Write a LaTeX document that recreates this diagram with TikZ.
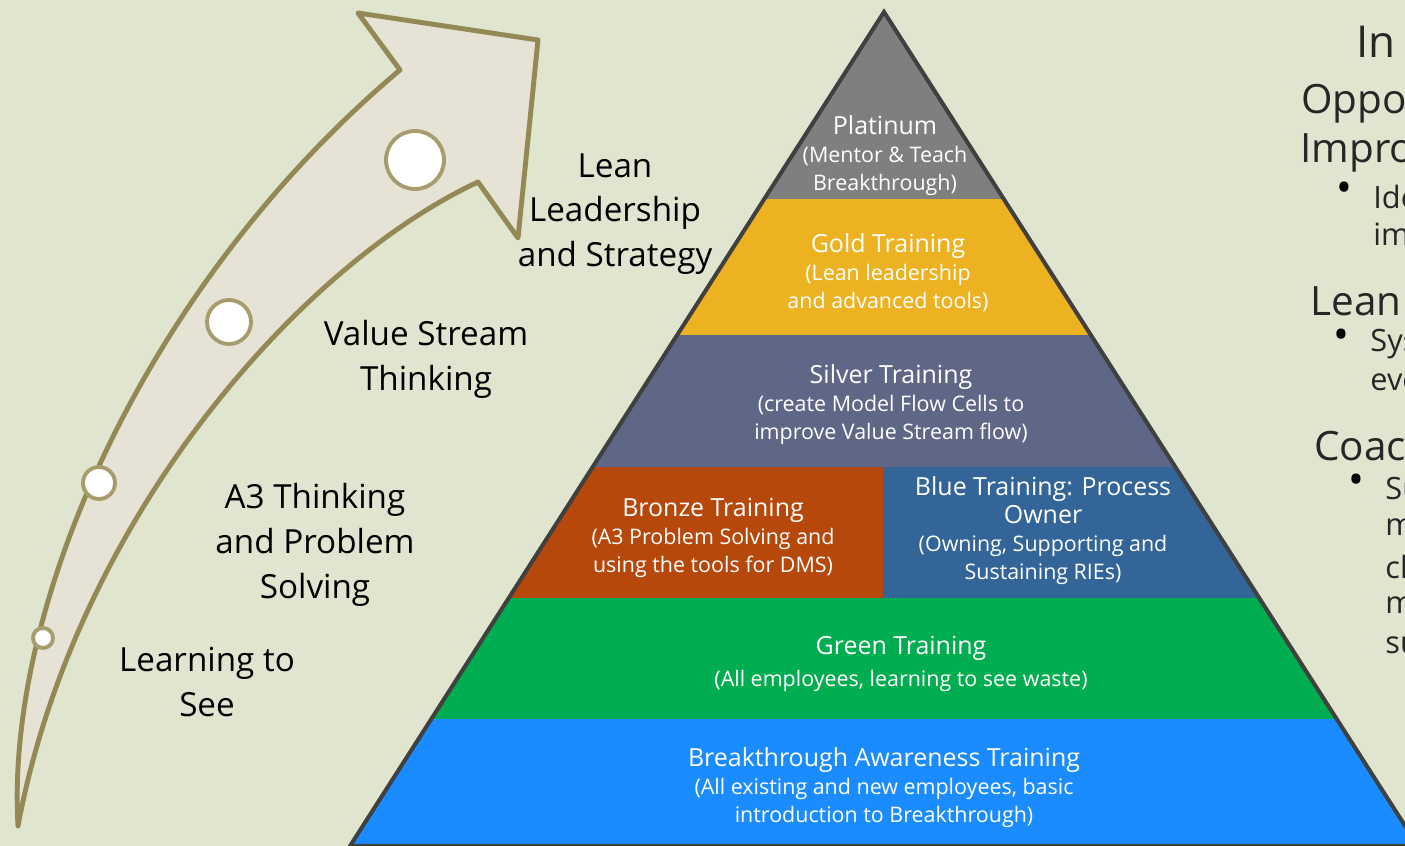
\documentclass[tikz,border=0pt]{standalone}
\usepackage{fontspec}
\setmainfont{Open Sans}

\definecolor{bgcol}{HTML}{DFE5CE}
\definecolor{arrowfill}{HTML}{E6E3D6}
\definecolor{arrowline}{HTML}{948954}
\definecolor{dotline}{HTML}{A79D6C}
\definecolor{platcol}{HTML}{7F7F7F}
\definecolor{goldcol}{HTML}{EDB221}
\definecolor{silvercol}{HTML}{5F6787}
\definecolor{bronzecol}{HTML}{B7480B}
\definecolor{bluecol}{HTML}{346598}
\definecolor{greencol}{HTML}{00AD50}
\definecolor{awarecol}{HTML}{1A8CFF}
\definecolor{edgecol}{HTML}{404040}

\newcommand\ttlfont{\fontsize{14.2}{15}\selectfont}
\newcommand\subfont{\fontsize{12.2}{15.9}\selectfont}

\tikzset{
  ptext/.style={text=white, align=center, inner sep=0pt, font=\subfont},
  stage/.style={text=black, align=center, inner sep=0pt, font=\fontsize{18.9}{25.5}\selectfont},
  rhead/.style={text=black!85, anchor=west, inner sep=0pt, font=\fontsize{23}{26}\selectfont},
  rtext/.style={text=black!85, anchor=west, inner sep=0pt, font=\fontsize{17.5}{20}\selectfont},
  rdot/.style={text=black, anchor=west, inner sep=0pt, text height=6pt, text depth=0pt,
    font=\fontsize{24}{24}\selectfont},
}

\begin{document}
\begin{tikzpicture}[x=0.2mm, y=-0.2mm]
\useasboundingbox (0,0) rectangle (1405,846);
\clip (0,0) rectangle (1405,846);
\fill[bgcol] (0,0) rectangle (1405,846);

% curved arrow
\draw[arrowline, fill=arrowfill, line width=2.8pt, line join=round]
  (18,826) .. controls (5,600) and (150,280) .. (400,70) -- (358,13) -- (538,40)
  -- (518,238) -- (478,182) .. controls (300,265) and (75,520) .. cycle;
\foreach \x/\y/\r in {415/160/29, 229/322/22, 99/483/16, 43/638/10}{
	\draw[dotline, fill=white, line width=2.2pt] (\x,\y) circle [radius=\r];
}

% stages
\node[stage] (lean) at (615,214) {Lean\\Leadership\\and Strategy};
\node[stage] (vst) at (426,359) {Value Stream\\Thinking};
\node[stage] (athree) at (315,545) {A3 Thinking\\and Problem\\Solving};
\node[stage] (lts) at (207,682) {Learning to\\See};

% pyramid bands
\begin{scope}
\clip (884,12) -- (1418,846) -- (350,846) -- cycle;
\fill[platcol] (300,0) rectangle (1450,199);
\fill[goldcol] (300,199) rectangle (1450,335);
\fill[silvercol] (300,335) rectangle (1450,467);
\fill[bronzecol] (300,467) rectangle (883,598);
\fill[bluecol] (883,467) rectangle (1450,598);
\fill[greencol] (300,598) rectangle (1450,719);
\fill[awarecol] (300,719) rectangle (1450,850);
\end{scope}
\draw[edgecol, line width=2.3pt, line join=miter] (884,12) -- (1418,846) -- (350,846) -- cycle;

\node[ptext] (plat) at (885,156) {{\ttlfont Platinum}\\(Mentor \& Teach\\Breakthrough)};
\node[ptext] (gold) at (888,273) {{\ttlfont Gold Training}\\(Lean leadership\\and advanced tools)};
\node[ptext] (silver) at (891,405) {{\ttlfont Silver Training}\\(create Model Flow Cells to\\improve Value Stream flow)};
\node[ptext] (bronze) at (713,538) {{\ttlfont Bronze Training}\\(A3 Problem Solving and\\using the tools for DMS)};
\node[ptext] (blueT) at (1043,531) {{\ttlfont Blue Training: Process}\\{\ttlfont Owner}\\(Owning, Supporting and\\Sustaining RIEs)};
\node[ptext] (green) at (901,664) {{\ttlfont Green Training}\\[2pt](All employees, learning to see waste)};
\node[ptext] (aware) at (884,788) {{\ttlfont Breakthrough Awareness Training}\\(All existing and new employees, basic\\introduction to Breakthrough)};

% right column
\node[rhead, font=\fontsize{25}{28}\selectfont] (in) at (1356,42) {In};
\node[rhead] (oppo) at (1301,104) {Oppo};
\node[rhead] (impro) at (1300,153) {Impro};
\node[rdot] (b1) at (1336,197) {•};
\node[rtext] (ide) at (1373,197) {Ide};
\node[rtext] (im) at (1373,234) {im};
\node[rhead] (leanr) at (1310,301) {Lean};
\node[rdot] (b2) at (1333,344) {•};
\node[rtext] (sys) at (1370,344) {Sys};
\node[rtext] (eve) at (1370,382) {eve};
\node[rhead] (coac) at (1314,446) {Coac};
\node[rdot] (b3) at (1348,489) {•};
\node[rtext] (su) at (1385,489) {Su};
\node[rtext] (ma) at (1385,527) {m};
\node[rtext] (ch) at (1385,567) {ch};
\node[rtext] (mb) at (1385,605) {m};
\node[rtext] (sub) at (1385,645) {su};
\end{tikzpicture}
\end{document}
